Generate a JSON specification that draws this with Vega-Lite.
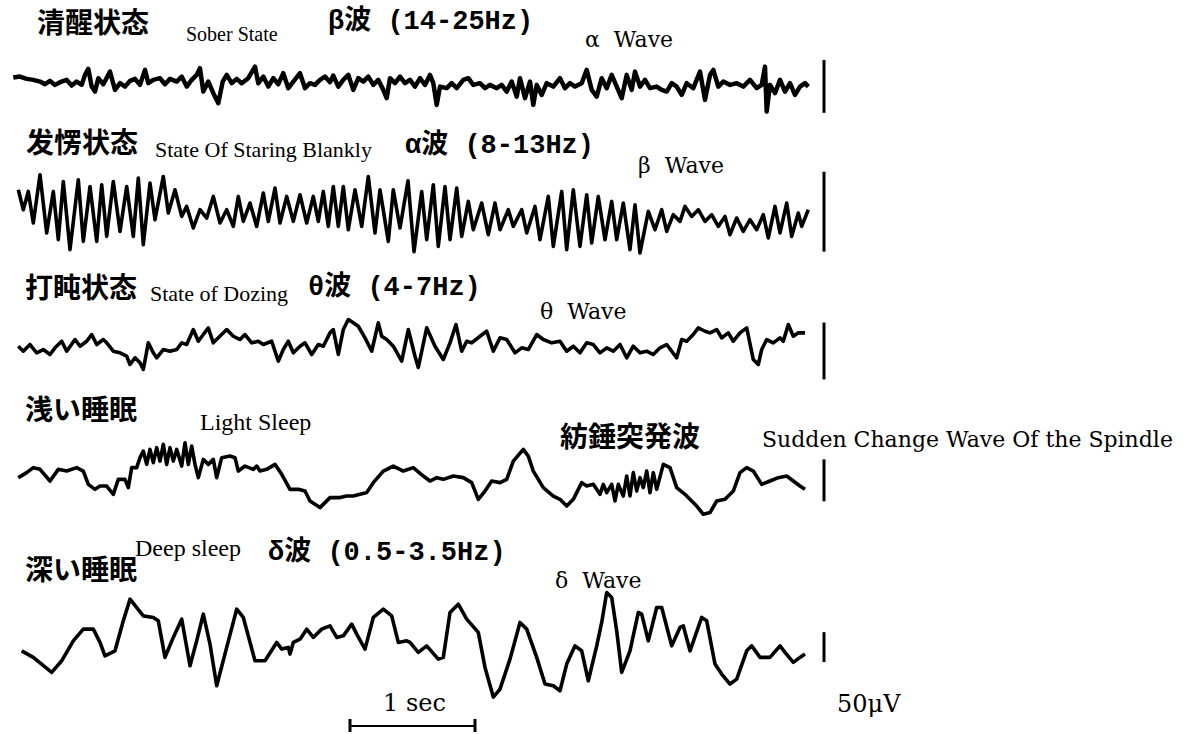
{
"$schema":"https://vega.github.io/schema/vega-lite/v6.json",
"width":1196,"height":734,"padding":0,
"autosize":{"type":"fit","contains":"padding"},
"background":"white",
"config":{"view":{"stroke":null}},
"datasets":{
"traces":[
{"w":"beta","x":13.3,"y":77.7},{"w":"beta","x":20,"y":76.7},{"w":"beta","x":26.7,"y":79},{"w":"beta","x":33.3,"y":80},{"w":"beta","x":40,"y":81.7},{"w":"beta","x":45,"y":84.3},{"w":"beta","x":50,"y":81},{"w":"beta","x":55,"y":85},{"w":"beta","x":60,"y":82.3},{"w":"beta","x":66.7,"y":80},{"w":"beta","x":71.7,"y":85.7},{"w":"beta","x":76.7,"y":81.7},{"w":"beta","x":81.7,"y":85},{"w":"beta","x":85,"y":75},{"w":"beta","x":88.3,"y":69},{"w":"beta","x":91.7,"y":86.7},{"w":"beta","x":95,"y":91.7},{"w":"beta","x":98.3,"y":78.3},{"w":"beta","x":103.3,"y":84.3},{"w":"beta","x":110,"y":71.7},{"w":"beta","x":115,"y":90},{"w":"beta","x":120,"y":83.3},{"w":"beta","x":125,"y":86.7},{"w":"beta","x":130,"y":81},{"w":"beta","x":135,"y":79},{"w":"beta","x":140,"y":85},{"w":"beta","x":145,"y":70},{"w":"beta","x":148.3,"y":83.3},{"w":"beta","x":153.3,"y":80},{"w":"beta","x":160,"y":78.3},{"w":"beta","x":165,"y":84.3},{"w":"beta","x":170,"y":79},{"w":"beta","x":176.7,"y":81.7},{"w":"beta","x":181.7,"y":76.7},{"w":"beta","x":186.7,"y":86.7},{"w":"beta","x":191.7,"y":80},{"w":"beta","x":196.7,"y":75},{"w":"beta","x":200,"y":68.3},{"w":"beta","x":203.3,"y":91.7},{"w":"beta","x":208.3,"y":81.7},{"w":"beta","x":213.3,"y":93.3},{"w":"beta","x":218.3,"y":103.3},{"w":"beta","x":222.7,"y":81.7},{"w":"beta","x":226.7,"y":75},{"w":"beta","x":231.7,"y":83.3},{"w":"beta","x":236.7,"y":79},{"w":"beta","x":241.7,"y":83.3},{"w":"beta","x":248.3,"y":78.3},{"w":"beta","x":255,"y":66.7},{"w":"beta","x":258.3,"y":83.3},{"w":"beta","x":263.3,"y":76.7},{"w":"beta","x":268.3,"y":86.7},{"w":"beta","x":273.3,"y":78.3},{"w":"beta","x":278.3,"y":84.3},{"w":"beta","x":283.3,"y":73.3},{"w":"beta","x":288.3,"y":88.3},{"w":"beta","x":293.3,"y":81.7},{"w":"beta","x":300,"y":73.3},{"w":"beta","x":305,"y":88.3},{"w":"beta","x":310,"y":83.3},{"w":"beta","x":315,"y":85},{"w":"beta","x":320,"y":80},{"w":"beta","x":325,"y":76.7},{"w":"beta","x":330,"y":82.3},{"w":"beta","x":333.3,"y":75.7},{"w":"beta","x":338.3,"y":86.7},{"w":"beta","x":343.3,"y":80},{"w":"beta","x":348.3,"y":75},{"w":"beta","x":353.3,"y":90},{"w":"beta","x":358.3,"y":78.3},{"w":"beta","x":363.3,"y":81.7},{"w":"beta","x":368.3,"y":76.7},{"w":"beta","x":373.3,"y":85},{"w":"beta","x":378.3,"y":80},{"w":"beta","x":383.3,"y":90},{"w":"beta","x":386.7,"y":98.3},{"w":"beta","x":390,"y":78.3},{"w":"beta","x":395,"y":83.3},{"w":"beta","x":400,"y":76.7},
{"w":"beta","x":405,"y":83.3},{"w":"beta","x":410,"y":80},{"w":"beta","x":415,"y":86.7},{"w":"beta","x":420,"y":78.3},{"w":"beta","x":425,"y":85},{"w":"beta","x":430,"y":75},{"w":"beta","x":433.3,"y":83.3},{"w":"beta","x":436.7,"y":105},{"w":"beta","x":440,"y":86.7},{"w":"beta","x":446.7,"y":88.3},{"w":"beta","x":451.7,"y":83.3},{"w":"beta","x":456.7,"y":88.3},{"w":"beta","x":463.3,"y":80},{"w":"beta","x":468.3,"y":78.3},{"w":"beta","x":473.3,"y":85},{"w":"beta","x":480,"y":83.3},{"w":"beta","x":485,"y":88.3},{"w":"beta","x":490,"y":85},{"w":"beta","x":496.7,"y":88.3},{"w":"beta","x":501.7,"y":85},{"w":"beta","x":506.7,"y":91.7},{"w":"beta","x":511.7,"y":81.7},{"w":"beta","x":516.7,"y":96.7},{"w":"beta","x":520,"y":78.3},{"w":"beta","x":525,"y":98.3},{"w":"beta","x":530,"y":81.7},{"w":"beta","x":533.3,"y":105},{"w":"beta","x":536.7,"y":85},{"w":"beta","x":541.7,"y":95},{"w":"beta","x":546.7,"y":83.3},{"w":"beta","x":553.3,"y":86.7},{"w":"beta","x":560,"y":78.3},{"w":"beta","x":565,"y":88.3},{"w":"beta","x":570,"y":83.3},{"w":"beta","x":575,"y":86.7},{"w":"beta","x":581.7,"y":83.3},{"w":"beta","x":586.7,"y":70},{"w":"beta","x":591.7,"y":90},{"w":"beta","x":596.7,"y":96.7},{"w":"beta","x":601.7,"y":78.3},{"w":"beta","x":606.7,"y":88.3},{"w":"beta","x":611.7,"y":75},{"w":"beta","x":616.7,"y":86.7},{"w":"beta","x":621.7,"y":98.3},{"w":"beta","x":626.7,"y":75},{"w":"beta","x":631.7,"y":90},{"w":"beta","x":635,"y":71.7},{"w":"beta","x":640,"y":86.7},{"w":"beta","x":645,"y":80},{"w":"beta","x":650,"y":88.3},{"w":"beta","x":656.7,"y":86.7},{"w":"beta","x":661.7,"y":90},{"w":"beta","x":666.7,"y":91.7},{"w":"beta","x":671.7,"y":83.3},{"w":"beta","x":676.7,"y":86.7},{"w":"beta","x":681.7,"y":95},{"w":"beta","x":686.7,"y":83.3},{"w":"beta","x":693.3,"y":88.3},{"w":"beta","x":700,"y":71.7},{"w":"beta","x":705,"y":100},{"w":"beta","x":710,"y":75},{"w":"beta","x":713.3,"y":70},{"w":"beta","x":718.3,"y":86.7},{"w":"beta","x":723.3,"y":81.7},{"w":"beta","x":730,"y":85},{"w":"beta","x":736.7,"y":83.3},{"w":"beta","x":743.3,"y":86.7},{"w":"beta","x":750,"y":80},{"w":"beta","x":756.7,"y":88.3},{"w":"beta","x":761.7,"y":85},{"w":"beta","x":765,"y":66.7},{"w":"beta","x":766.7,"y":111.7},{"w":"beta","x":770,"y":85},{"w":"beta","x":775,"y":93.3},{"w":"beta","x":780,"y":80},{"w":"beta","x":785,"y":91.7},{"w":"beta","x":790,"y":83.3},{"w":"beta","x":795,"y":95},{"w":"beta","x":800,"y":86.7},{"w":"beta","x":805,"y":83.3},{"w":"beta","x":808.3,"y":86.7},
{"w":"alpha","x":18.3,"y":190},{"w":"alpha","x":23.3,"y":210},{"w":"alpha","x":28.3,"y":191.7},{"w":"alpha","x":33.3,"y":223.3},{"w":"alpha","x":40,"y":175},{"w":"alpha","x":46.7,"y":233.3},{"w":"alpha","x":53.3,"y":191.7},{"w":"alpha","x":58.3,"y":240},{"w":"alpha","x":63.3,"y":181.7},{"w":"alpha","x":70,"y":250},{"w":"alpha","x":78.3,"y":180},{"w":"alpha","x":83.3,"y":241.7},{"w":"alpha","x":90,"y":186.7},{"w":"alpha","x":96.7,"y":241.7},{"w":"alpha","x":101.7,"y":185},{"w":"alpha","x":106.7,"y":236.7},{"w":"alpha","x":113.3,"y":181.7},{"w":"alpha","x":120,"y":231.7},{"w":"alpha","x":126.7,"y":186.7},{"w":"alpha","x":133.3,"y":236.7},{"w":"alpha","x":138.3,"y":178.3},{"w":"alpha","x":143.3,"y":245},{"w":"alpha","x":150,"y":183.3},{"w":"alpha","x":155,"y":220},{"w":"alpha","x":163.3,"y":176.7},{"w":"alpha","x":168.3,"y":213.3},{"w":"alpha","x":175,"y":190},{"w":"alpha","x":181.7,"y":216.7},{"w":"alpha","x":186.7,"y":206.7},{"w":"alpha","x":193.3,"y":228.3},{"w":"alpha","x":200,"y":210},{"w":"alpha","x":206.7,"y":218.3},{"w":"alpha","x":213.3,"y":196.7},{"w":"alpha","x":220,"y":223.3},{"w":"alpha","x":226.7,"y":210},{"w":"alpha","x":233.3,"y":226.7},{"w":"alpha","x":238.3,"y":196.7},{"w":"alpha","x":243.3,"y":221.7},{"w":"alpha","x":250,"y":203.3},{"w":"alpha","x":256.7,"y":226.7},{"w":"alpha","x":263.3,"y":193.3},{"w":"alpha","x":268.3,"y":221.7},{"w":"alpha","x":275,"y":188.3},{"w":"alpha","x":280,"y":223.3},{"w":"alpha","x":286.7,"y":196.7},{"w":"alpha","x":293.3,"y":221.7},{"w":"alpha","x":300,"y":195},{"w":"alpha","x":306.7,"y":223.3},{"w":"alpha","x":313.3,"y":196.7},{"w":"alpha","x":318.3,"y":221.7},{"w":"alpha","x":323.3,"y":191.7},{"w":"alpha","x":328.3,"y":226.7},{"w":"alpha","x":333.3,"y":186.7},{"w":"alpha","x":338.3,"y":226.7},{"w":"alpha","x":343.3,"y":186.7},{"w":"alpha","x":348.3,"y":230},{"w":"alpha","x":355,"y":190},{"w":"alpha","x":361.7,"y":226.7},{"w":"alpha","x":368.3,"y":176.7},{"w":"alpha","x":375,"y":233.3},{"w":"alpha","x":380,"y":190},{"w":"alpha","x":388.3,"y":241.7},{"w":"alpha","x":393.3,"y":190},{"w":"alpha","x":400,"y":228.3},{"w":"alpha","x":408,"y":181},{"w":"alpha","x":414,"y":252},
{"w":"alpha","x":421.7,"y":191.7},{"w":"alpha","x":426.7,"y":240},{"w":"alpha","x":433.3,"y":185},{"w":"alpha","x":438.3,"y":246.7},{"w":"alpha","x":445,"y":186.7},{"w":"alpha","x":450,"y":240},{"w":"alpha","x":456.7,"y":188.3},{"w":"alpha","x":461.7,"y":236.7},{"w":"alpha","x":468.3,"y":201.7},{"w":"alpha","x":473.3,"y":230},{"w":"alpha","x":481.7,"y":203.3},{"w":"alpha","x":488.3,"y":235},{"w":"alpha","x":495,"y":203.3},{"w":"alpha","x":500,"y":230},{"w":"alpha","x":508.3,"y":210},{"w":"alpha","x":513.3,"y":226.7},{"w":"alpha","x":521.7,"y":210},{"w":"alpha","x":526.7,"y":233.3},{"w":"alpha","x":535,"y":206.7},{"w":"alpha","x":540,"y":240},{"w":"alpha","x":548.3,"y":196.7},{"w":"alpha","x":553.3,"y":246.7},{"w":"alpha","x":561.7,"y":191.7},{"w":"alpha","x":566.7,"y":250},{"w":"alpha","x":573.3,"y":190},{"w":"alpha","x":580,"y":246.7},{"w":"alpha","x":586.7,"y":195},{"w":"alpha","x":591.7,"y":243.3},{"w":"alpha","x":598.3,"y":196.7},{"w":"alpha","x":605,"y":240},{"w":"alpha","x":611.7,"y":201.7},{"w":"alpha","x":616.7,"y":240},{"w":"alpha","x":623.3,"y":203.3},{"w":"alpha","x":630,"y":250},{"w":"alpha","x":635,"y":205},{"w":"alpha","x":640,"y":253.3},{"w":"alpha","x":648.3,"y":211.7},{"w":"alpha","x":655,"y":230},{"w":"alpha","x":661.7,"y":210},{"w":"alpha","x":666.7,"y":231.7},{"w":"alpha","x":673.3,"y":215},{"w":"alpha","x":680,"y":221.7},{"w":"alpha","x":685,"y":206.7},{"w":"alpha","x":691.7,"y":216.7},{"w":"alpha","x":698.3,"y":210},{"w":"alpha","x":705,"y":221.7},{"w":"alpha","x":711.7,"y":215},{"w":"alpha","x":718.3,"y":226.7},{"w":"alpha","x":725,"y":216.7},{"w":"alpha","x":730,"y":235},{"w":"alpha","x":736.7,"y":218.3},{"w":"alpha","x":743.3,"y":231.7},{"w":"alpha","x":750,"y":220},{"w":"alpha","x":756.7,"y":230},{"w":"alpha","x":763.3,"y":215},{"w":"alpha","x":768.3,"y":238.3},{"w":"alpha","x":775,"y":206.7},{"w":"alpha","x":780,"y":233.3},{"w":"alpha","x":786.7,"y":203.3},{"w":"alpha","x":791.7,"y":236.7},{"w":"alpha","x":798.3,"y":213.3},{"w":"alpha","x":801.7,"y":226.7},{"w":"alpha","x":808.3,"y":210},
{"w":"theta","x":18.3,"y":346.7},{"w":"theta","x":23.3,"y":351.7},{"w":"theta","x":30,"y":345},{"w":"theta","x":36.7,"y":353.3},{"w":"theta","x":43.3,"y":350},{"w":"theta","x":50,"y":355},{"w":"theta","x":55,"y":348.3},{"w":"theta","x":61.7,"y":341.7},{"w":"theta","x":66.7,"y":351.7},{"w":"theta","x":75,"y":340},{"w":"theta","x":80,"y":346.7},{"w":"theta","x":86.7,"y":341.7},{"w":"theta","x":91.7,"y":335},{"w":"theta","x":96.7,"y":345},{"w":"theta","x":103.3,"y":340},{"w":"theta","x":106.7,"y":343.3},{"w":"theta","x":113.3,"y":351.7},{"w":"theta","x":120,"y":353.3},{"w":"theta","x":126.7,"y":356.7},{"w":"theta","x":130,"y":365},{"w":"theta","x":135,"y":358.3},{"w":"theta","x":140,"y":363.3},{"w":"theta","x":143.3,"y":370},{"w":"theta","x":148.3,"y":343.3},{"w":"theta","x":153.3,"y":353.3},{"w":"theta","x":156.7,"y":358.3},{"w":"theta","x":163.3,"y":350},{"w":"theta","x":170,"y":351.7},{"w":"theta","x":176.7,"y":350},{"w":"theta","x":181.7,"y":343.3},{"w":"theta","x":186.7,"y":345},{"w":"theta","x":193.3,"y":330},{"w":"theta","x":198.3,"y":341.7},{"w":"theta","x":203.3,"y":335},{"w":"theta","x":208.3,"y":328.3},{"w":"theta","x":213.3,"y":343.3},{"w":"theta","x":218.3,"y":338.3},{"w":"theta","x":226.7,"y":330},{"w":"theta","x":233.3,"y":336.7},{"w":"theta","x":240,"y":340},{"w":"theta","x":245,"y":335},{"w":"theta","x":251.7,"y":343.3},{"w":"theta","x":258.3,"y":341.7},{"w":"theta","x":263.3,"y":345},{"w":"theta","x":271.7,"y":341.7},{"w":"theta","x":278.3,"y":361.7},{"w":"theta","x":283.3,"y":350},{"w":"theta","x":288.3,"y":341.7},{"w":"theta","x":293.3,"y":353.3},{"w":"theta","x":300,"y":346.7},{"w":"theta","x":305,"y":343.3},{"w":"theta","x":311.7,"y":355},{"w":"theta","x":318.3,"y":345},{"w":"theta","x":323.3,"y":346.7},{"w":"theta","x":330,"y":333.3},{"w":"theta","x":333.3,"y":330},{"w":"theta","x":338.3,"y":355},{"w":"theta","x":343.3,"y":330},{"w":"theta","x":348.3,"y":320},{"w":"theta","x":353.3,"y":323.3},{"w":"theta","x":358.3,"y":326.7},{"w":"theta","x":365,"y":338.3},{"w":"theta","x":371.7,"y":351.7},{"w":"theta","x":378.3,"y":323.3},{"w":"theta","x":381.7,"y":336.7},{"w":"theta","x":386.7,"y":340},{"w":"theta","x":393.3,"y":346.7},{"w":"theta","x":401.7,"y":361.7},{"w":"theta","x":408.3,"y":330},{"w":"theta","x":415,"y":356.7},{"w":"theta","x":418.3,"y":368},
{"w":"theta","x":426.7,"y":328.3},{"w":"theta","x":435,"y":346.7},{"w":"theta","x":443.3,"y":360},{"w":"theta","x":450,"y":343.3},{"w":"theta","x":456,"y":325},{"w":"theta","x":461.7,"y":351.7},{"w":"theta","x":466.7,"y":341.7},{"w":"theta","x":471.7,"y":343.3},{"w":"theta","x":480,"y":336.7},{"w":"theta","x":486.7,"y":331.7},{"w":"theta","x":493.3,"y":351.7},{"w":"theta","x":500,"y":338.3},{"w":"theta","x":506.7,"y":340},{"w":"theta","x":515,"y":353.3},{"w":"theta","x":521.7,"y":348.3},{"w":"theta","x":528.3,"y":350},{"w":"theta","x":536.7,"y":335},{"w":"theta","x":543.3,"y":340},{"w":"theta","x":551.7,"y":343.3},{"w":"theta","x":560,"y":341.7},{"w":"theta","x":566.7,"y":351.7},{"w":"theta","x":573.3,"y":346.7},{"w":"theta","x":580,"y":353.3},{"w":"theta","x":586.7,"y":343.3},{"w":"theta","x":593.3,"y":345},{"w":"theta","x":600,"y":353.3},{"w":"theta","x":606.7,"y":348.3},{"w":"theta","x":613.3,"y":351.7},{"w":"theta","x":620,"y":345},{"w":"theta","x":626.7,"y":358.3},{"w":"theta","x":633.3,"y":346.7},{"w":"theta","x":640,"y":353.3},{"w":"theta","x":646.7,"y":351.7},{"w":"theta","x":653.3,"y":355},{"w":"theta","x":660,"y":348.3},{"w":"theta","x":666.7,"y":345},{"w":"theta","x":676.7,"y":358.3},{"w":"theta","x":681.7,"y":340},{"w":"theta","x":686.7,"y":341.7},{"w":"theta","x":693.3,"y":335},{"w":"theta","x":698.3,"y":328.3},{"w":"theta","x":705,"y":331.7},{"w":"theta","x":710,"y":333.3},{"w":"theta","x":716.7,"y":330},{"w":"theta","x":721.7,"y":338.3},{"w":"theta","x":728.3,"y":333.3},{"w":"theta","x":733.3,"y":341.7},{"w":"theta","x":740,"y":333.3},{"w":"theta","x":746.7,"y":328.3},{"w":"theta","x":753.3,"y":360},{"w":"theta","x":758.3,"y":365},{"w":"theta","x":761.7,"y":350},{"w":"theta","x":766.7,"y":340},{"w":"theta","x":773.3,"y":343.3},{"w":"theta","x":780,"y":338.3},{"w":"theta","x":783.3,"y":341.7},{"w":"theta","x":788.3,"y":325},{"w":"theta","x":793.3,"y":336.7},{"w":"theta","x":798.3,"y":333.3},{"w":"theta","x":805,"y":333.3},
{"w":"light","x":18.3,"y":478.3},{"w":"light","x":26.7,"y":473.3},{"w":"light","x":33.3,"y":468.3},{"w":"light","x":40,"y":470},{"w":"light","x":50,"y":481.7},{"w":"light","x":58.3,"y":470},{"w":"light","x":66.7,"y":471.7},{"w":"light","x":76.7,"y":468.3},{"w":"light","x":83.3,"y":471.7},{"w":"light","x":88.3,"y":485},{"w":"light","x":95,"y":490},{"w":"light","x":100,"y":486.7},{"w":"light","x":106.7,"y":486.7},{"w":"light","x":113.3,"y":495},{"w":"light","x":118.3,"y":480},{"w":"light","x":125,"y":480},{"w":"light","x":128.3,"y":488.3},{"w":"light","x":131.7,"y":468.3},{"w":"light","x":136.7,"y":468.3},{"w":"light","x":140,"y":458.3},{"w":"light","x":143.3,"y":451.7},{"w":"light","x":146.7,"y":465},{"w":"light","x":150,"y":450},{"w":"light","x":153.3,"y":463.3},{"w":"light","x":156.7,"y":448.3},{"w":"light","x":160,"y":461.7},{"w":"light","x":163.3,"y":445},{"w":"light","x":166.7,"y":465},{"w":"light","x":170,"y":448.3},{"w":"light","x":173.3,"y":461.7},{"w":"light","x":176.7,"y":450},{"w":"light","x":181.7,"y":466.7},{"w":"light","x":185,"y":443.3},{"w":"light","x":188.3,"y":465},{"w":"light","x":191.7,"y":446.7},{"w":"light","x":195,"y":465},{"w":"light","x":198.3,"y":478.3},{"w":"light","x":203.3,"y":460},{"w":"light","x":208.3,"y":465},{"w":"light","x":213.3,"y":460},{"w":"light","x":216.7,"y":478.3},{"w":"light","x":221.7,"y":458.3},{"w":"light","x":230,"y":456.7},{"w":"light","x":235,"y":458.3},{"w":"light","x":238.3,"y":471.7},{"w":"light","x":245,"y":466.7},{"w":"light","x":253.3,"y":470},{"w":"light","x":256.7,"y":466.7},{"w":"light","x":260,"y":471.7},{"w":"light","x":266.7,"y":470},{"w":"light","x":275,"y":465},{"w":"light","x":281.7,"y":475},{"w":"light","x":290,"y":490},{"w":"light","x":298.3,"y":490},{"w":"light","x":305,"y":491.7},{"w":"light","x":310,"y":501.7},{"w":"light","x":320,"y":508.3},{"w":"light","x":330,"y":498.3},{"w":"light","x":340,"y":498.3},{"w":"light","x":346.7,"y":496.7},{"w":"light","x":353.3,"y":496.7},{"w":"light","x":360,"y":495},{"w":"light","x":366.7,"y":493.3},{"w":"light","x":373.3,"y":483.3},{"w":"light","x":383.3,"y":471.7},{"w":"light","x":393.3,"y":466.7},{"w":"light","x":403.3,"y":471.7},
{"w":"light","x":413.3,"y":468.3},{"w":"light","x":423.3,"y":476.7},{"w":"light","x":430,"y":481.7},{"w":"light","x":436.7,"y":478.3},{"w":"light","x":443.3,"y":480},{"w":"light","x":453.3,"y":476.7},{"w":"light","x":463.3,"y":478.3},{"w":"light","x":471.7,"y":483.3},{"w":"light","x":478.3,"y":500},{"w":"light","x":485,"y":491.7},{"w":"light","x":491.7,"y":481.7},{"w":"light","x":500,"y":483.3},{"w":"light","x":506.7,"y":480},{"w":"light","x":513.3,"y":461.7},{"w":"light","x":523.3,"y":450},{"w":"light","x":528.3,"y":456.7},{"w":"light","x":533.3,"y":471.7},{"w":"light","x":543.3,"y":488.3},{"w":"light","x":553.3,"y":496.7},{"w":"light","x":560,"y":500},{"w":"light","x":566.7,"y":506.7},{"w":"light","x":573.3,"y":500},{"w":"light","x":581.7,"y":483.3},{"w":"light","x":586.7,"y":486.7},{"w":"light","x":593.3,"y":485},{"w":"light","x":600,"y":495},{"w":"light","x":603.3,"y":485},{"w":"light","x":606.7,"y":493.3},{"w":"light","x":611.7,"y":485},{"w":"light","x":615,"y":501.7},{"w":"light","x":618.3,"y":485},{"w":"light","x":623.3,"y":496.7},{"w":"light","x":626.7,"y":476.7},{"w":"light","x":630,"y":496.7},{"w":"light","x":633.3,"y":473.3},{"w":"light","x":636.7,"y":491.7},{"w":"light","x":640,"y":478.3},{"w":"light","x":643.3,"y":488.3},{"w":"light","x":646.7,"y":471.7},{"w":"light","x":650,"y":493.3},{"w":"light","x":653.3,"y":473.3},{"w":"light","x":656.7,"y":490},{"w":"light","x":663.3,"y":465},{"w":"light","x":670,"y":468.3},{"w":"light","x":676.7,"y":488.3},{"w":"light","x":685,"y":495},{"w":"light","x":691.7,"y":501.7},{"w":"light","x":696.7,"y":506.7},{"w":"light","x":703.3,"y":515},{"w":"light","x":710,"y":513.3},{"w":"light","x":716.7,"y":501.7},{"w":"light","x":725,"y":500},{"w":"light","x":733.3,"y":491.7},{"w":"light","x":740,"y":473.3},{"w":"light","x":746.7,"y":468.3},{"w":"light","x":753.3,"y":471.7},{"w":"light","x":761.7,"y":485},{"w":"light","x":770,"y":481.7},{"w":"light","x":778.3,"y":478.3},{"w":"light","x":786.7,"y":476.7},{"w":"light","x":793.3,"y":481.7},{"w":"light","x":800,"y":486.7},{"w":"light","x":805,"y":490},
{"w":"delta","x":21.7,"y":651.7},{"w":"delta","x":33.3,"y":658.3},{"w":"delta","x":51.7,"y":673.3},{"w":"delta","x":61.7,"y":661.7},{"w":"delta","x":73.3,"y":641.7},{"w":"delta","x":83.3,"y":630},{"w":"delta","x":93.3,"y":630},{"w":"delta","x":100,"y":643.3},{"w":"delta","x":105,"y":656.7},{"w":"delta","x":115,"y":651.7},{"w":"delta","x":123.3,"y":621.7},{"w":"delta","x":130,"y":600},{"w":"delta","x":143.3,"y":616.7},{"w":"delta","x":153.3,"y":618.3},{"w":"delta","x":158.3,"y":621.7},{"w":"delta","x":165,"y":658.3},{"w":"delta","x":173.3,"y":638.3},{"w":"delta","x":181.7,"y":620},{"w":"delta","x":190,"y":666.7},{"w":"delta","x":196.7,"y":641.7},{"w":"delta","x":203.3,"y":615},{"w":"delta","x":210,"y":645},{"w":"delta","x":216.7,"y":686.7},{"w":"delta","x":226.7,"y":648.3},{"w":"delta","x":236.7,"y":610},{"w":"delta","x":243.3,"y":618.3},{"w":"delta","x":255,"y":661.7},{"w":"delta","x":265,"y":661.7},{"w":"delta","x":276.7,"y":643.3},{"w":"delta","x":281.7,"y":650},{"w":"delta","x":288.3,"y":648.3},{"w":"delta","x":290,"y":655},{"w":"delta","x":293.3,"y":643.3},{"w":"delta","x":300,"y":640},{"w":"delta","x":306.7,"y":630},{"w":"delta","x":313.3,"y":638.3},{"w":"delta","x":321.7,"y":630},{"w":"delta","x":330,"y":626.7},{"w":"delta","x":336.7,"y":638.3},{"w":"delta","x":343.3,"y":636.7},{"w":"delta","x":351.7,"y":625},{"w":"delta","x":356.7,"y":635},{"w":"delta","x":365,"y":650},{"w":"delta","x":373.3,"y":618.3},{"w":"delta","x":383.3,"y":610},{"w":"delta","x":391.7,"y":616.7},{"w":"delta","x":398.3,"y":643.3},{"w":"delta","x":406.7,"y":641.7},{"w":"delta","x":410,"y":643.3},{"w":"delta","x":418.3,"y":653.3},
{"w":"delta","x":426.7,"y":646.7},{"w":"delta","x":438.3,"y":660},{"w":"delta","x":443.3,"y":658.3},{"w":"delta","x":450,"y":613.3},{"w":"delta","x":458.3,"y":605},{"w":"delta","x":466.7,"y":620},{"w":"delta","x":478.3,"y":633.3},{"w":"delta","x":485,"y":668.3},{"w":"delta","x":493.3,"y":698},{"w":"delta","x":500,"y":690},{"w":"delta","x":510,"y":660},{"w":"delta","x":520,"y":623.3},{"w":"delta","x":526.7,"y":630},{"w":"delta","x":536.7,"y":658.3},{"w":"delta","x":545,"y":685},{"w":"delta","x":553.3,"y":686.7},{"w":"delta","x":560,"y":691.7},{"w":"delta","x":566.7,"y":665},{"w":"delta","x":575,"y":646.7},{"w":"delta","x":581.7,"y":651.7},{"w":"delta","x":588.3,"y":681.7},{"w":"delta","x":596.7,"y":646.7},{"w":"delta","x":601.7,"y":623.3},{"w":"delta","x":606.7,"y":593.3},{"w":"delta","x":611.7,"y":598.3},{"w":"delta","x":616.7,"y":631.7},{"w":"delta","x":621.7,"y":673.3},{"w":"delta","x":630,"y":651.7},{"w":"delta","x":638.3,"y":613.3},{"w":"delta","x":641.7,"y":615},{"w":"delta","x":648.3,"y":641.7},{"w":"delta","x":656.7,"y":608.3},{"w":"delta","x":661.7,"y":608.3},{"w":"delta","x":671.7,"y":646.7},{"w":"delta","x":680,"y":628.3},{"w":"delta","x":683.3,"y":626.7},{"w":"delta","x":690,"y":651.7},{"w":"delta","x":701.7,"y":618.3},{"w":"delta","x":706.7,"y":621.7},{"w":"delta","x":715,"y":665},{"w":"delta","x":721.7,"y":675},{"w":"delta","x":730,"y":685},{"w":"delta","x":736.7,"y":680},{"w":"delta","x":746.7,"y":651.7},{"w":"delta","x":751.7,"y":646.7},{"w":"delta","x":760,"y":658.3},{"w":"delta","x":770,"y":658.3},{"w":"delta","x":780,"y":646.7},{"w":"delta","x":785,"y":653.3},{"w":"delta","x":793.3,"y":663.3},{"w":"delta","x":800,"y":658.3},{"w":"delta","x":805,"y":655}
]
},
"encoding":{
"x":{"field":"x","type":"quantitative","scale":{"domain":[0,1196],"nice":false,"zero":false},"axis":null},
"y":{"field":"y","type":"quantitative","scale":{"domain":[0,734],"reverse":true,"nice":false,"zero":false},"axis":null}
},
"layer":[
{"data":{"name":"traces"},"transform":[{"filter":"datum.w !== 'beta'"}],"mark":{"type":"line","color":"black","strokeWidth":3.6,"strokeJoin":"round"},"encoding":{"detail":{"field":"w","type":"nominal"}}},
{"data":{"name":"traces"},"transform":[{"filter":"datum.w === 'beta'"}],"mark":{"type":"line","color":"black","strokeWidth":4.5,"strokeJoin":"round"},"encoding":{"detail":{"field":"w","type":"nominal"}}},
{"data":{"values":[{"bar":"beta","x":824,"y":60,"y2":113},{"bar":"alpha","x":824,"y":172,"y2":252},{"bar":"theta","x":824,"y":323,"y2":380},{"bar":"light","x":824,"y":460,"y2":502},{"bar":"delta","x":824,"y":633,"y2":663},{"bar":"sec-left","x":350,"y":720,"y2":733},{"bar":"sec-right","x":475,"y":720,"y2":733}]},"mark":{"type":"rule","color":"black","strokeWidth":3},"encoding":{"y2":{"field":"y2"}}},
{"data":{"values":[{"bar":"1 sec","x":350,"x2":475,"y":727}]},"mark":{"type":"rule","color":"black","strokeWidth":2},"encoding":{"x2":{"field":"x2"}}},
{"data":{"values":[{"x":37,"y":25,"t":"清醒状态"},{"x":26,"y":145,"t":"发愣状态"},{"x":25,"y":290,"t":"打盹状态"}]},"mark":{"type":"text","align":"left","baseline":"middle","font":"Noto Sans CJK SC","fontWeight":"bold","fontSize":28,"color":"black"},"encoding":{"text":{"field":"t"}}},
{"data":{"values":[{"x":25,"y":413,"t":"浅い睡眠"},{"x":25,"y":573,"t":"深い睡眠"},{"x":560,"y":440,"t":"紡錘突発波"}]},"mark":{"type":"text","align":"left","baseline":"middle","font":"Noto Sans CJK JP","fontWeight":"bold","fontSize":28,"color":"black"},"encoding":{"text":{"field":"t"}}},
{"data":{"values":[{"x":328,"y":21,"t":"β波 (14-25Hz)"},{"x":405,"y":145,"t":"α波 (8-13Hz)"},{"x":308,"y":287,"t":"θ波 (4-7Hz)"},{"x":268,"y":553,"t":"δ波 (0.5-3.5Hz)"}]},"mark":{"type":"text","align":"left","baseline":"middle","font":"Liberation Mono, Noto Sans CJK JP","fontSize":27,"fontWeight":"bold","color":"black"},"encoding":{"text":{"field":"t"}}},
{"data":{"values":[{"x":186,"y":35,"t":"Sober State"}]},"mark":{"type":"text","align":"left","baseline":"middle","font":"Liberation Serif","fontSize":20,"color":"black"},"encoding":{"text":{"field":"t"}}},
{"data":{"values":[{"x":155,"y":150,"t":"State Of Staring Blankly"},{"x":150,"y":294,"t":"State of Dozing"}]},"mark":{"type":"text","align":"left","baseline":"middle","font":"Liberation Serif","fontSize":22,"color":"black"},"encoding":{"text":{"field":"t"}}},
{"data":{"values":[{"x":200,"y":424,"t":"Light Sleep"},{"x":135,"y":550,"t":"Deep sleep"}]},"mark":{"type":"text","align":"left","baseline":"middle","font":"Liberation Serif","fontSize":24,"color":"black"},"encoding":{"text":{"field":"t"}}},
{"data":{"values":[{"x":585,"y":40,"t":"α\u00a0\u00a0Wave"},{"x":638,"y":166,"t":"β\u00a0\u00a0Wave"},{"x":540,"y":312,"t":"θ\u00a0\u00a0Wave"},{"x":555,"y":582,"t":"δ\u00a0\u00a0Wave"},{"x":762,"y":441,"t":"Sudden Change Wave Of the Spindle"}]},"mark":{"type":"text","align":"left","baseline":"middle","font":"DejaVu Serif","fontSize":22,"color":"black"},"encoding":{"text":{"field":"t"}}},
{"data":{"values":[{"x":383,"y":705,"t":"1 sec"},{"x":837,"y":706,"t":"50μV"}]},"mark":{"type":"text","align":"left","baseline":"middle","font":"DejaVu Serif","fontSize":24,"color":"black"},"encoding":{"text":{"field":"t"}}}
]
}
